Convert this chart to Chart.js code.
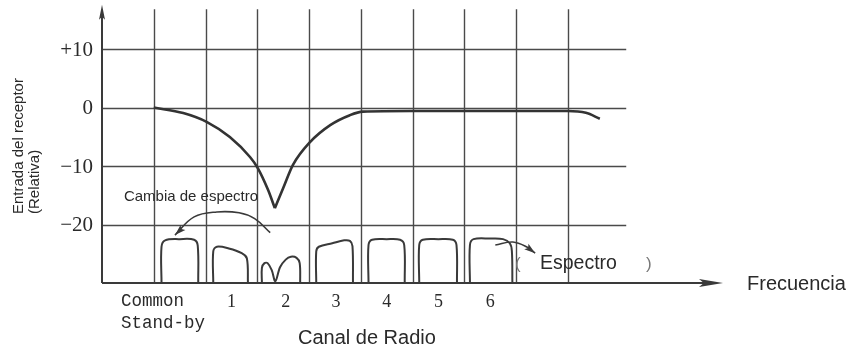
<!DOCTYPE html>
<html>
<head>
<meta charset="utf-8">
<script src="https://cdn.jsdelivr.net/npm/chart.js@4/dist/chart.umd.min.js"></script>
<style>
  html, body { margin: 0; padding: 0; background: #fff; }
  #wrap { width: 852px; height: 349px; }
</style>
</head>
<body>
<div id="wrap"><canvas id="graficoEspectro"></canvas></div>
<script>
// respuesta del receptor (dB relativos), dos ramas para dejar la punta en el minimo
const respuestaIzq = [
  { x: 1, y: 0 }, { x: 1.57, y: -0.94 }, { x: 2.03, y: -2.48 }, { x: 2.47, y: -5.04 },
  { x: 2.86, y: -8.46 }, { x: 3.01, y: -10.34 }, { x: 3.21, y: -14.1 }, { x: 3.34, y: -17.2 }
]
const respuestaDer = [
  { x: 3.34, y: -17.2 }, { x: 3.5, y: -13.8 }, { x: 3.69, y: -9.8 }, { x: 4.02, y: -5.9 },
  { x: 4.41, y: -3.0 }, { x: 4.79, y: -1.3 }, { x: 5.04, y: -0.7 }, { x: 6, y: -0.6 },
  { x: 7, y: -0.6 }, { x: 8, y: -0.6 }, { x: 9, y: -0.6 }, { x: 9.35, y: -0.9 }, { x: 9.62, y: -1.9 }
]

// espectro de cada canal
const canalCommon = [[1.15, -30], [1.15, -23.8], [1.22, -22.7], [1.5, -22.5], [1.78, -22.6], [1.85, -23.6], [1.86, -30]]
const canal1 = [[2.15, -30], [2.15, -24.6], [2.22, -23.8], [2.45, -24.1], [2.7, -24.9], [2.8, -25.8], [2.82, -30]]
const canal2 = [[3.09, -30], [3.09, -27.4], [3.14, -26.6], [3.2, -26.6], [3.28, -27.8], [3.35, -29.7], [3.44, -27.3],
  [3.55, -26.0], [3.65, -25.5], [3.76, -25.7], [3.82, -26.6], [3.83, -30]]
const canal3 = [[4.14, -30], [4.14, -24.6], [4.19, -23.8], [4.45, -23.2], [4.68, -22.7], [4.79, -22.8], [4.84, -23.7], [4.85, -30]]
const canal4 = [[5.15, -30], [5.15, -23.5], [5.22, -22.6], [5.5, -22.5], [5.76, -22.6], [5.84, -23.5], [5.85, -30]]
const canal5 = [[6.13, -30], [6.13, -23.5], [6.2, -22.6], [6.5, -22.5], [6.78, -22.6], [6.85, -23.5], [6.86, -30]]
const canal6 = [[7.11, -30], [7.11, -23.5], [7.18, -22.5], [7.5, -22.4], [7.75, -22.5], [7.88, -23.2], [7.92, -24.5], [7.93, -30]]

// flechas de anotacion
const flechaCambia = [[3.25, -21.4], [2.95, -19.0], [2.65, -18.0], [2.22, -17.85], [1.78, -18.7], [1.41, -21.8]]
const flechaEspectro = [[7.6, -23.5], [7.94, -23.0], [8.22, -23.9], [8.37, -24.9]]

// ejes y etiquetas
const yTicks = [10, 0, -10, -20]
const yTickLabels = ['+10', '0', '\u221210', '\u221220']
const xGrid = [1, 2, 3, 4, 5, 6, 7, 8, 9]
const canalPos = [2.5, 3.55, 4.52, 5.5, 6.5, 7.5]
const canalLabels = ['1', '2', '3', '4', '5', '6']

const LINEA = '#3a3a3a'

const toXY = arr => arr.map(p => ({ x: p[0], y: p[1] }))

function serie(data, opts) {
    return Object.assign({
        data: data,
        borderColor: LINEA,
        borderWidth: 2,
        pointRadius: 0,
        fill: false,
        tension: 0.35,
        clip: false
    }, opts || {})
}

function flecha(ctx, x0, y0, x1, y1, largo, ancho) {
    let ang = Math.atan2(y1 - y0, x1 - x0)
    ctx.save()
    ctx.translate(x1, y1)
    ctx.rotate(ang)
    ctx.beginPath()
    ctx.moveTo(0, 0)
    ctx.lineTo(-largo, -ancho / 2)
    ctx.lineTo(-largo * 0.8, 0)
    ctx.lineTo(-largo, ancho / 2)
    ctx.closePath()
    ctx.fill()
    ctx.restore()
}

const dibujoFondo = {
    id: 'dibujoFondo',
    beforeDatasetsDraw(chart) {
        const ctx = chart.ctx
        const sx = chart.scales.x, sy = chart.scales.y
        ctx.save()
        ctx.strokeStyle = '#4a4a4a'
        ctx.lineWidth = 1.4
        yTicks.forEach(v => {
            let p = Math.round(sy.getPixelForValue(v)) + 0.5
            ctx.beginPath()
            ctx.moveTo(sx.getPixelForValue(0), p)
            ctx.lineTo(sx.getPixelForValue(10.13), p)
            ctx.stroke()
        })
        xGrid.forEach(v => {
            let p = Math.round(sx.getPixelForValue(v)) + 0.5
            ctx.beginPath()
            ctx.moveTo(p, sy.getPixelForValue(-30))
            ctx.lineTo(p, sy.getPixelForValue(16.8))
            ctx.stroke()
        })
        // ejes con flecha
        ctx.strokeStyle = LINEA
        ctx.fillStyle = LINEA
        ctx.lineWidth = 2
        let x0 = sx.getPixelForValue(0), y0 = sy.getPixelForValue(-30)
        let yTop = sy.getPixelForValue(17.6), xEnd = sx.getPixelForValue(12)
        ctx.beginPath()
        ctx.moveTo(x0, y0)
        ctx.lineTo(x0, yTop + 8)
        ctx.moveTo(x0, y0)
        ctx.lineTo(xEnd - 10, y0)
        ctx.stroke()
        flecha(ctx, x0, y0, x0, yTop, 15, 6)
        flecha(ctx, x0, y0, xEnd, y0, 24, 8)
        ctx.restore()
    },
    afterDraw(chart) {
        const ctx = chart.ctx
        const sx = chart.scales.x, sy = chart.scales.y
        ctx.save()
        ctx.fillStyle = '#2a2a2a'
        ctx.textBaseline = 'middle'

        // ticks del eje y
        ctx.font = '21px "Liberation Serif", serif'
        ctx.textAlign = 'right'
        yTicks.forEach((v, i) => ctx.fillText(yTickLabels[i], 93, sy.getPixelForValue(v) + 1))

        // canales
        ctx.font = '18px "Liberation Serif", serif'
        ctx.textAlign = 'center'
        canalPos.forEach((v, i) => ctx.fillText(canalLabels[i], sx.getPixelForValue(v), 302))
        ctx.font = '17.5px "Liberation Mono", monospace'
        ctx.textAlign = 'left'
        ctx.fillText('Common', 121, 301)
        ctx.fillText('Stand-by', 121, 323)

        // titulos
        ctx.font = '20px "Liberation Sans", Arial, sans-serif'
        ctx.textAlign = 'left'
        ctx.fillText('Canal de Radio', 298, 338)
        ctx.fillText('Frecuencia', 747, 284)
        ctx.font = '19.5px "Liberation Sans", Arial, sans-serif'
        ctx.fillText('Espectro', 540, 264)
        ctx.font = '17px "Liberation Sans", Arial, sans-serif'
        ctx.fillStyle = '#777'
        ctx.fillText('(', 515, 264)
        ctx.fillText(')', 646, 264)
        ctx.fillStyle = '#2a2a2a'
        ctx.font = '15px "Liberation Sans", Arial, sans-serif'
        ctx.textAlign = 'center'
        ctx.fillText('Cambia de espectro', 191, 197)

        // titulo eje y
        ctx.translate(19, 214)
        ctx.rotate(-Math.PI / 2)
        ctx.textAlign = 'left'
        ctx.font = '15px "Liberation Sans", Arial, sans-serif'
        ctx.fillText('Entrada del receptor', 0, 0)
        ctx.fillText('(Relativa)', 0, 16)
        ctx.restore()

        // puntas de las flechas de anotacion
        ctx.save()
        ctx.fillStyle = LINEA
        ;[8, 9].forEach(i => {
            let pts = chart.getDatasetMeta(i).data
            let a = pts[pts.length - 2], b = pts[pts.length - 1]
            flecha(ctx, a.x, a.y, b.x, b.y, 11, 7)
        })
        ctx.restore()
    }
}

new Chart(document.getElementById('graficoEspectro'), {
    type: 'line',
    data: {
        datasets: [
            serie(respuestaIzq, { borderWidth: 2.6, cubicInterpolationMode: 'monotone', borderColor: '#333' }),
            serie(respuestaDer, { borderWidth: 2.6, cubicInterpolationMode: 'monotone', borderColor: '#333' }),
            serie(toXY(canalCommon)),
            serie(toXY(canal1)),
            serie(toXY(canal2)),
            serie(toXY(canal3)),
            serie(toXY(canal4)),
            serie(toXY(canal5)),
            serie(toXY(flechaCambia), { borderWidth: 1.6, tension: 0.4 }),
            serie(toXY(flechaEspectro), { borderWidth: 1.6, tension: 0.4 }),
            serie(toXY(canal6))
        ]
    },
    options: {
        responsive: true,
        maintainAspectRatio: false,
        animation: false,
        layout: {
            padding: { left: 102, right: 129, top: 14, bottom: 66 }
        },
        plugins: {
            legend: { display: false },
            tooltip: { enabled: false }
        },
        scales: {
            x: { type: 'linear', min: 0, max: 12, display: false },
            y: { type: 'linear', min: -30, max: 16, display: false }
        }
    },
    plugins: [dibujoFondo]
})
</script>
</body>
</html>
